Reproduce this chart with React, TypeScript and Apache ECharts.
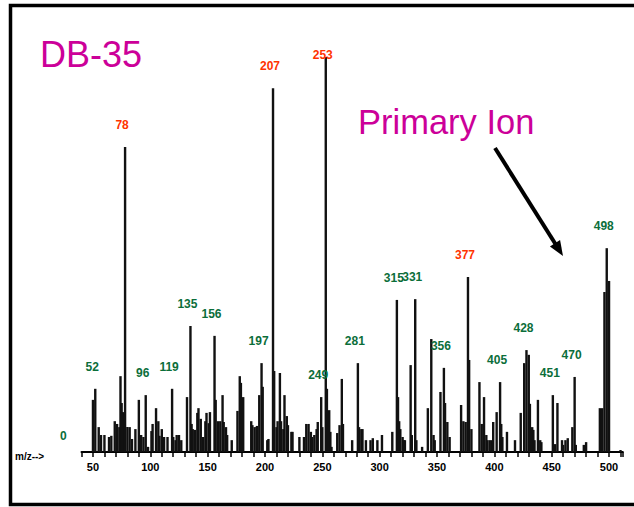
import { useEffect, useRef } from "react";
import * as echarts from "echarts";

// Mass spectrum of DB-35 bleed: [m/z, relative abundance %]
const peaks: [number, number][] = [
  [50, 13.2], [52, 16.0], [55, 6.3], [57, 4.3], [60, 4.3], [64, 3.8], [66, 4.1],
  [69, 7.8], [71, 7.1], [73, 6.3], [74, 19.2], [75, 12.4], [76, 10.1], [78, 77.2],
  [80, 6.3], [82, 6.3], [84, 3.3], [87, 5.8], [90, 13.2], [92, 4.3], [94, 3.8],
  [96, 14.4], [98, 1.3], [101, 5.3], [102, 7.1], [105, 11.1], [107, 7.8], [108, 4.1],
  [110, 5.8], [112, 3.8], [115, 3.8], [119, 16.0], [120, 3.8], [122, 3.0], [123, 4.3],
  [125, 4.3], [127, 3.0], [132, 13.9], [135, 31.9], [136, 7.1], [137, 5.8], [139, 5.6],
  [141, 9.9], [142, 11.1], [144, 8.4], [146, 3.8], [148, 7.8], [149, 9.9], [151, 7.3],
  [152, 10.1], [156, 29.4], [157, 13.2], [159, 7.8], [161, 7.8], [163, 14.4], [164, 7.6],
  [166, 6.3], [167, 4.3], [171, 3.0], [176, 10.4], [178, 19.2], [179, 17.5], [181, 13.9],
  [188, 7.8], [189, 6.8], [191, 6.3], [193, 6.6], [195, 14.4], [197, 22.5], [198, 16.5],
  [202, 3.0], [203, 3.3], [207, 92.1], [208, 20.5], [210, 6.3], [211, 7.8], [213, 20.0],
  [214, 7.8], [216, 5.8], [217, 14.4], [219, 9.1], [220, 6.8], [223, 5.1], [224, 5.1],
  [230, 3.8], [234, 3.8], [236, 7.1], [238, 7.1], [240, 5.1], [241, 3.8], [243, 4.3],
  [245, 5.8], [246, 7.6], [249, 13.9], [250, 6.3], [253, 100], [254, 16.0], [256, 10.6],
  [257, 5.1], [258, 1.3], [263, 4.8], [265, 6.8], [267, 18.5], [268, 7.1], [276, 3.0],
  [281, 22.5], [282, 6.3], [284, 5.8], [285, 5.8], [288, 3.0], [292, 3.0], [294, 3.5],
  [298, 3.0], [302, 4.3], [311, 5.1], [315, 38.5], [316, 13.9], [317, 7.8], [318, 5.8],
  [320, 3.8], [321, 3.0], [322, 3.0], [327, 22.0], [328, 4.3], [331, 38.7], [332, 3.0],
  [337, 1.3], [342, 11.1], [345, 28.6], [347, 4.3], [348, 3.0], [353, 15.2], [356, 21.3],
  [357, 12.4], [359, 7.6], [361, 3.8], [371, 11.9], [373, 7.8], [375, 7.6], [377, 44.3],
  [378, 23.3], [380, 5.8], [387, 17.7], [389, 7.1], [391, 13.9], [393, 4.3], [394, 3.0],
  [396, 3.0], [398, 3.0], [399, 7.6], [402, 10.1], [405, 17.7], [406, 7.1], [407, 3.8],
  [411, 5.1], [418, 3.0], [423, 9.9], [426, 22.5], [428, 25.8], [430, 24.6], [431, 12.2],
  [433, 6.3], [434, 5.6], [435, 3.0], [438, 13.2], [440, 3.0], [441, 2.5], [451, 14.4],
  [453, 2.0], [455, 12.4], [459, 3.0], [460, 1.8], [462, 3.0], [464, 3.5], [468, 6.3],
  [470, 19.0], [471, 1.8], [478, 1.8], [480, 2.5], [492, 11.1], [494, 11.1], [496, 40.5],
  [498, 51.6], [500, 43.3], [510, 0.5],
];

// Peaks annotated with their m/z
const redLabels = [78, 207, 253, 377];
const greenLabels = [52, 96, 119, 135, 156, 197, 249, 281, 315, 331, 356, 405, 428, 451, 470, 498];
const xTickLabels = [50, 100, 150, 200, 250, 300, 350, 400, 450, 500];

const RED = "#ff3300";
const GREEN = "#0b6e3a";
const MAGENTA = "#cc0099";
const FONT = "'Liberation Sans', Arial, sans-serif";

export default function App() {
  const ref = useRef<HTMLDivElement>(null);

  useEffect(() => {
    if (!ref.current) return;
    const chart = echarts.init(ref.current, undefined, { renderer: "svg" });

    const data = peaks.map(([mz, ab]) => {
      const isRed = redLabels.includes(mz);
      const isGreen = greenLabels.includes(mz);
      if (!isRed && !isGreen) return { value: [mz, ab] };
      return {
        value: [mz, ab],
        label: {
          show: true,
          position: "top" as const,
          distance: 16,
          offset: mz === 253 ? [-3, 20] : [-3, 0],
          formatter: String(mz),
          color: isRed ? RED : GREEN,
          fontSize: 12,
          fontWeight: "bold" as const,
          fontFamily: FONT,
        },
      };
    });

    // arrow pointing at the molecular ion cluster
    const tip = [563, 256];
    const start = [495, 148];
    const dx = tip[0] - start[0];
    const dy = tip[1] - start[1];
    const len = Math.hypot(dx, dy);
    const ux = dx / len;
    const uy = dy / len;
    const headLen = 15;
    const headHalf = 6;
    const bx = tip[0] - ux * headLen;
    const by = tip[1] - uy * headLen;

    chart.setOption({
      animation: false,
      backgroundColor: "#ffffff",
      grid: { left: 81.5, right: 634 - 622.8, top: 57, bottom: 507 - 452 },
      xAxis: {
        type: "value",
        min: 40,
        max: 512,
        interval: 10,
        axisLine: { show: true, lineStyle: { color: "#000", width: 2 } },
        axisTick: { show: true, length: 5, lineStyle: { color: "#000", width: 1.5 } },
        axisLabel: {
          color: "#000",
          fontSize: 11,
          fontWeight: "bold",
          fontFamily: FONT,
          margin: 9,
          formatter: (v: number) => (xTickLabels.includes(v) ? String(v) : ""),
        },
        splitLine: { show: false },
      },
      yAxis: {
        type: "value",
        min: 0,
        max: 100,
        show: false,
        splitLine: { show: false },
      },
      series: [
        {
          type: "bar",
          data,
          barWidth: 2.4,
          barGap: "-100%",
          itemStyle: { color: "#111" },
        },
      ],
      graphic: [
        {
          type: "rect",
          shape: { x: 10.5, y: 5.5, width: 660, height: 499 },
          style: { fill: "none", stroke: "#000", lineWidth: 3.5 },
          silent: true,
        },
        {
          type: "text",
          x: 40,
          y: 36,
          style: { text: "DB-35", fill: MAGENTA, font: `36px ${FONT}` },
        },
        {
          type: "text",
          x: 358,
          y: 104,
          style: { text: "Primary Ion", fill: MAGENTA, font: `34.5px ${FONT}` },
        },
        {
          type: "text",
          x: 60,
          y: 430,
          style: { text: "0", fill: GREEN, font: `bold 12px ${FONT}` },
        },
        {
          type: "text",
          x: 15,
          y: 451,
          style: { text: "m/z-->", fill: "#000", font: `bold 10px ${FONT}` },
        },
        {
          type: "line",
          shape: { x1: start[0], y1: start[1], x2: bx + ux * 2, y2: by + uy * 2 },
          style: { stroke: "#000", lineWidth: 4 },
        },
        {
          type: "polygon",
          shape: {
            points: [
              tip,
              [bx - uy * headHalf, by + ux * headHalf],
              [bx + uy * headHalf, by - ux * headHalf],
            ],
          },
          style: { fill: "#000" },
        },
      ],
    });

    return () => chart.dispose();
  }, []);

  return (
    <div
      ref={ref}
      style={{ position: "fixed", left: 0, top: 0, width: 634, height: 507, background: "#fff" }}
    />
  );
}
